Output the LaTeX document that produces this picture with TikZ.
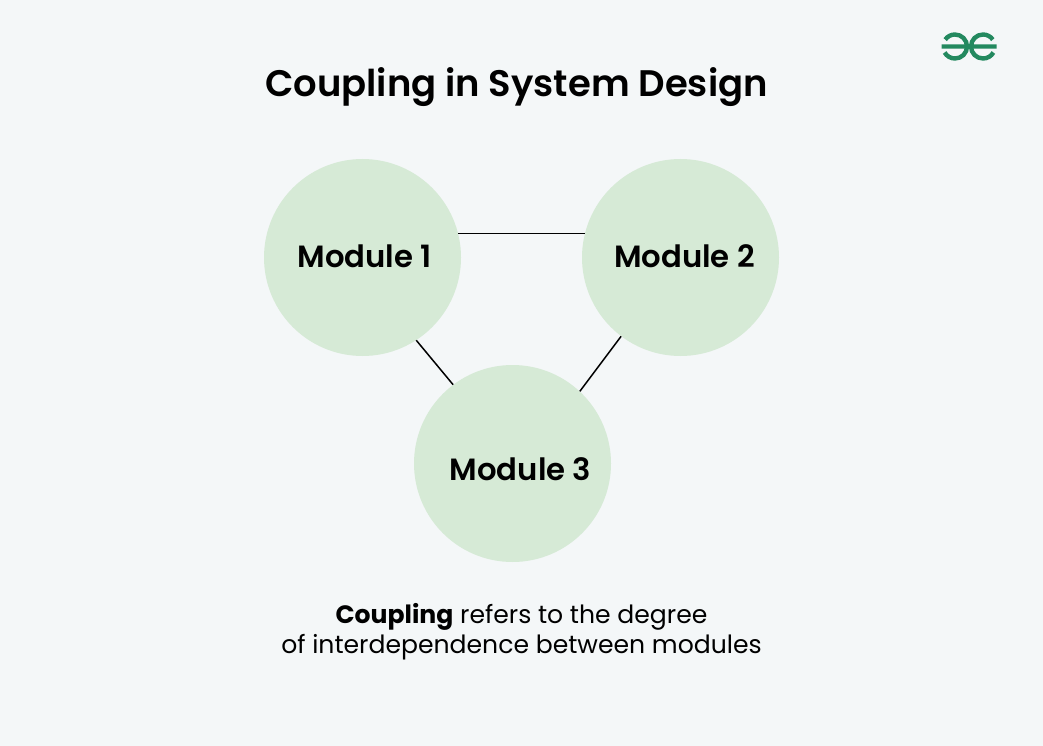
\documentclass[tikz,border=0pt]{standalone}
\usepackage{fontspec}
\setmainfont{Poppins}
\newfontfamily\semifont{Poppins SemiBold}
\definecolor{bgcol}{HTML}{F4F7F8}
\definecolor{modfill}{HTML}{D6EAD6}
\definecolor{logocol}{HTML}{23895F}
\tikzstyle{moddot}=[circle,fill=modfill,inner sep=0pt,minimum size=197pt]
\tikzstyle{modtext}=[font=\fontsize{30.7pt}{36pt}\semifont,inner sep=0pt]
\tikzstyle{captext}=[font=\fontsize{25.1pt}{30pt}\selectfont,inner sep=0pt]
\tikzstyle{linkline}=[line width=1.5pt]
\tikzstyle{logoline}=[logocol,line width=4.4pt]
\begin{document}
\begin{tikzpicture}[x=1pt,y=-1pt]
    \node (bg) at (521.5,373) [minimum width=1043pt,minimum height=746pt,inner sep=0pt,fill=bgcol]{};
    \node (title) at (516.5,87.5) [inner sep=0pt,font=\fontsize{36.95pt}{44pt}\semifont]{Coupling in System Design};
    \node (m1) at (362.5,257.5) [moddot]{};
    \node (m2) at (680.5,257.5) [moddot]{};
    \node (m3) at (512.5,463.5) [moddot]{};
    \node (l1) at (364.5,256) [modtext]{Module 1};
    \node (l2) at (684.5,256) [modtext]{Module 2};
    \node (l3) at (520.5,469) [modtext]{Module 3};
    \draw[linkline] (m1.14) -- (m2.166);
    \draw[linkline] (m1.-57) -- (m3.127);
    \draw[linkline] (m2.-127) -- (m3.47);
    \node (cap1) at (521.5,617) [captext]{\textbf{Coupling} refers to the degree};
    \node (cap2) at (521.5,647.5) [captext]{of interdependence between modules};
    % logo
    \draw[logoline] (941.5,46.5) -- (967,46.5) arc[start angle=0,end angle=145,radius=12pt];
    \draw[logoline] (967,46.5) arc[start angle=0,end angle=-150,radius=12pt];
    \draw[logoline] (996.5,46.5) -- (971,46.5) arc[start angle=180,end angle=35,radius=12pt];
    \draw[logoline] (971,46.5) arc[start angle=180,end angle=330,radius=12pt];
\end{tikzpicture}
\end{document}
